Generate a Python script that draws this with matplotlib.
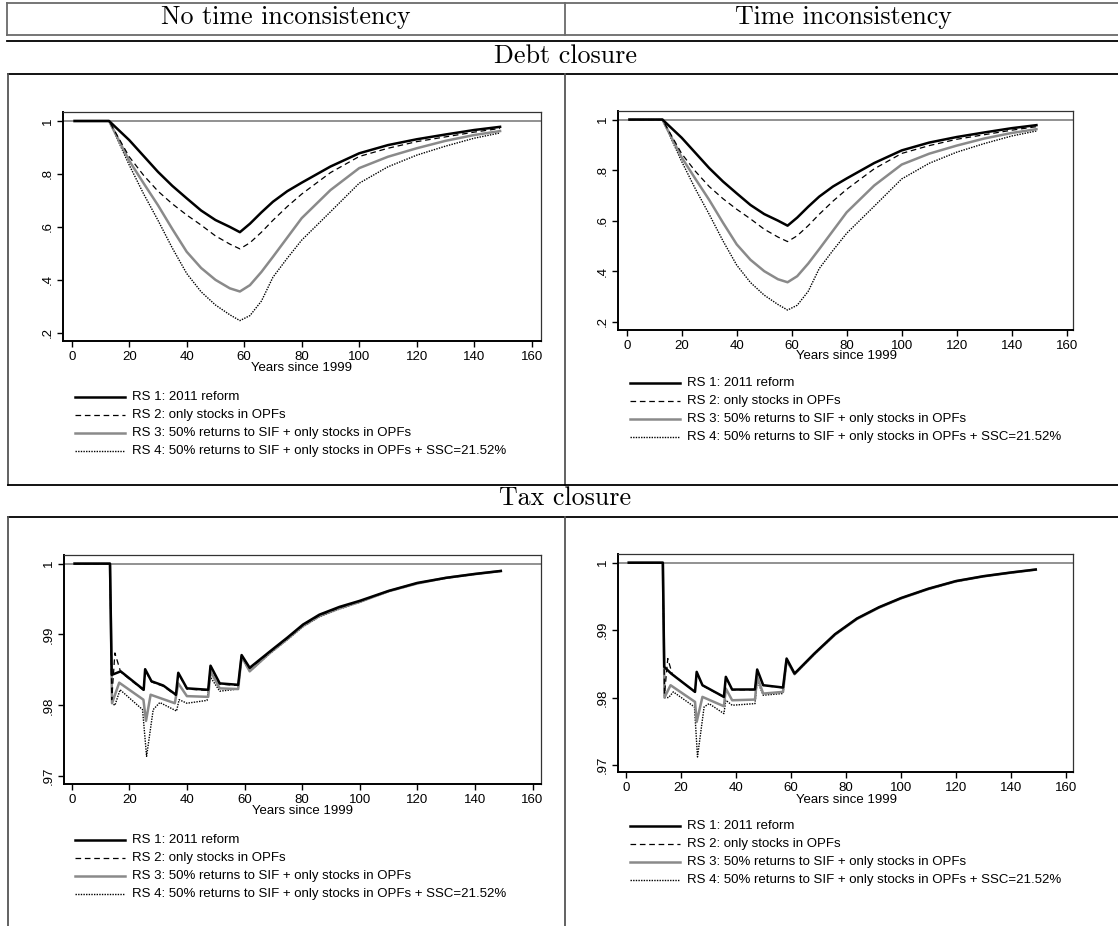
import matplotlib
matplotlib.use("Agg")
import matplotlib.pyplot as plt
from matplotlib.lines import Line2D

W, H = 1118, 926

# ---------------- data ----------------
col_titles = ["No time inconsistency", "Time inconsistency"]
row_titles = ["Debt closure", "Tax closure"]
legend_labels = ["RS 1: 2011 reform",
                 "RS 2: only stocks in OPFs",
                 "RS 3: 50% returns to SIF + only stocks in OPFs",
                 "RS 4: 50% returns to SIF + only stocks in OPFs + SSC=21.52%"]
xlabel = "Years since 1999"
x_ticks = [0, 20, 40, 60, 80, 100, 120, 140, 160]
debt_yticks = [0.2, 0.4, 0.6, 0.8, 1.0]
debt_yticklabels = [".2", ".4", ".6", ".8", "1"]
tax_yticks = [0.97, 0.98, 0.99, 1.0]
tax_yticklabels = [".97", ".98", ".99", "1"]

# Debt closure (same shape in both columns)
debt_t = [1, 13, 20, 25, 30, 35, 40, 45, 50, 55, 58.5, 62, 66, 70, 75, 80, 90, 100, 110, 120, 130, 140, 149]
debt_rs1 = [1.0, 1.0, 0.928, 0.868, 0.808, 0.755, 0.708, 0.662, 0.626, 0.600, 0.580, 0.612, 0.655, 0.695, 0.735, 0.767, 0.828, 0.878, 0.909, 0.931, 0.949, 0.966, 0.978]
debt_rs2 = [1.0, 1.0, 0.865, 0.795, 0.735, 0.687, 0.645, 0.607, 0.566, 0.535, 0.517, 0.540, 0.580, 0.625, 0.677, 0.724, 0.805, 0.866, 0.897, 0.922, 0.940, 0.958, 0.972]
debt_rs3 = [1.0, 1.0, 0.850, 0.765, 0.682, 0.592, 0.506, 0.445, 0.400, 0.368, 0.356, 0.380, 0.430, 0.487, 0.560, 0.633, 0.739, 0.822, 0.865, 0.897, 0.925, 0.947, 0.962]
debt_rs4 = [1.0, 1.0, 0.834, 0.725, 0.625, 0.520, 0.424, 0.355, 0.305, 0.268, 0.246, 0.265, 0.320, 0.410, 0.482, 0.550, 0.657, 0.765, 0.827, 0.871, 0.905, 0.935, 0.955]

# Tax closure, no time inconsistency
taxA_rs1_t = [1, 13.3, 13.9, 17, 25, 25.5, 27.7, 31.8, 36.2, 37, 40, 47.4, 48.2, 51.4, 57.8, 59, 61.8, 68.8, 75, 80.3, 86, 93, 100, 110, 120, 130, 140, 149]
taxA_rs1 = [1, 1, 0.9843, 0.9848, 0.9822, 0.9851, 0.9834, 0.9828, 0.9815, 0.9846, 0.9824, 0.9822, 0.9856, 0.9831, 0.9829, 0.9871, 0.9853, 0.9876, 0.9896, 0.9914, 0.9928, 0.9939, 0.99475, 0.99615, 0.99728, 0.99800, 0.99855, 0.99897]
taxA_rs2_t = [1, 13.3, 13.9, 15, 17, 25, 25.5, 27.7, 31.8, 36.2, 37, 40, 47.4, 48.2, 51.4, 57.8, 59, 61.8, 68.8, 75, 80.3, 86, 93, 100, 110, 120, 130, 140, 149]
taxA_rs2 = [1, 1, 0.9808, 0.9874, 0.9847, 0.9821, 0.9850, 0.9833, 0.9827, 0.9814, 0.9845, 0.9823, 0.9821, 0.9855, 0.9830, 0.9828, 0.9870, 0.9852, 0.9875, 0.9895, 0.9913, 0.9927, 0.9938, 0.99470, 0.99612, 0.99725, 0.99798, 0.99853, 0.99896]
taxA_rs3_t = [1, 13.3, 14, 16.5, 24.9, 25.8, 27.4, 35.8, 37, 40, 47.4, 48.2, 51.4, 57.8, 59, 61.8, 68.8, 75, 80.3, 86, 93, 100, 110, 120, 130, 140, 149]
taxA_rs3 = [1, 1, 0.9803, 0.9832, 0.9808, 0.9778, 0.9815, 0.9803, 0.9831, 0.9813, 0.9812, 0.9848, 0.9824, 0.9823, 0.9869, 0.9848, 0.9874, 0.9894, 0.9912, 0.9926, 0.9937, 0.9946, 0.9961, 0.9972, 0.9980, 0.99852, 0.99895]
taxA_rs4_t = [1, 13.3, 14, 15, 16.8, 24.6, 26, 28.3, 30.6, 36.4, 37.3, 40, 47, 48, 51.4, 57.8, 59, 61.8, 68.8, 75, 80.3, 86, 93, 100, 110, 120, 130, 140, 149]
taxA_rs4 = [1, 1, 0.9803, 0.9800, 0.9822, 0.9794, 0.9728, 0.9794, 0.9804, 0.9792, 0.9808, 0.9803, 0.9807, 0.9841, 0.9820, 0.9823, 0.9867, 0.9848, 0.9873, 0.9893, 0.9911, 0.9925, 0.9936, 0.99455, 0.99605, 0.99718, 0.99795, 0.9985, 0.99893]

# Tax closure, time inconsistency
taxB_rs1_t = [1, 13.4, 13.9, 16.4, 25.1, 25.7, 27.8, 35.6, 36.3, 38.6, 46.9, 47.7, 49.9, 57.1, 58.4, 61.3, 68.5, 76, 84, 92, 100, 110, 120, 130, 140, 149]
taxB_rs1 = [1, 1, 0.98455, 0.98356, 0.98084, 0.98381, 0.98183, 0.9801, 0.98307, 0.98119, 0.9812, 0.98416, 0.98183, 0.98149, 0.98579, 0.98356, 0.98653, 0.98940, 0.99173, 0.99340, 0.99476, 0.99615, 0.99728, 0.99800, 0.99855, 0.99899]
taxB_rs2_t = [1, 13.4, 14, 15.2, 16.8, 25.1, 25.7, 27.8, 35.6, 36.3, 38.6, 46.9, 47.7, 49.9, 57.1, 58.4, 61.3, 68.5, 76, 84, 92, 100, 110, 120, 130, 140, 149]
taxB_rs2 = [1, 1, 0.9805, 0.98579, 0.98350, 0.98080, 0.98375, 0.98178, 0.98005, 0.98300, 0.98114, 0.98115, 0.98410, 0.98178, 0.98144, 0.98574, 0.98352, 0.98650, 0.98937, 0.99170, 0.99338, 0.99474, 0.99613, 0.99726, 0.99798, 0.99854, 0.99898]
taxB_rs3_t = [1, 13.4, 14, 16.2, 25.1, 25.7, 27.8, 35.6, 36.3, 38.6, 46.9, 47.7, 49.9, 57.1, 58.4, 61.3, 68.5, 76, 84, 92, 100, 110, 120, 130, 140, 149]
taxB_rs3 = [1, 1, 0.9800, 0.98183, 0.97936, 0.97639, 0.9801, 0.97871, 0.98134, 0.9796, 0.9797, 0.98307, 0.98059, 0.98084, 0.98554, 0.98347, 0.98645, 0.98932, 0.99165, 0.99333, 0.9947, 0.9961, 0.99724, 0.99797, 0.99852, 0.99897]
taxB_rs4_t = [1, 13.4, 14, 15.5, 17.2, 24.9, 26, 28.4, 30.2, 35.6, 36.3, 38.6, 46.9, 47.7, 49.9, 57.1, 58.4, 61.3, 68.5, 76, 84, 92, 100, 110, 120, 130, 140, 149]
taxB_rs4 = [1, 1, 0.9800, 0.9800, 0.98084, 0.97861, 0.97119, 0.97861, 0.9791, 0.97762, 0.9796, 0.97886, 0.9791, 0.98257, 0.98035, 0.9806, 0.98545, 0.98342, 0.9864, 0.98928, 0.99165, 0.99330, 0.99468, 0.99605, 0.9972, 0.99795, 0.9985, 0.99895]

# ---------------- styles ----------------
styles = [
    dict(color="black", lw=1.8, ls="-"),
    dict(color="black", lw=0.9, ls=(0, (4.5, 3))),
    dict(color="#8a8a8a", lw=1.8, ls="-"),
    dict(color="black", lw=1.0, ls=(0, (1, 0.9))),
]

tick_font = "Liberation Sans"
fs_tick = 9.5

fig = plt.figure(figsize=(W / 100, H / 100), dpi=100)


def fx(x):
    return x / W


def fy(y):
    return 1 - y / H


def hline(y, x0, x1, color="black", lw=1.2):
    fig.add_artist(Line2D([fx(x0), fx(x1)], [fy(y), fy(y)], color=color, lw=lw,
                          transform=fig.transFigure))


def vline(x, y0, y1, color="black", lw=1.2):
    fig.add_artist(Line2D([fx(x), fx(x)], [fy(y0), fy(y1)], color=color, lw=lw,
                          transform=fig.transFigure))


# ---------------- table frame ----------------
grey = "#6a6a6a"
hline(3, 7, 1120, grey, 1.3)
hline(35, 7, 1120, grey, 1.3)
vline(7, 3, 35, grey, 1.3)
vline(565, 3, 35, grey, 1.3)
hline(41, 7, 1120, "black", 1.3)
hline(74, 8, 1120, "black", 1.3)
vline(8, 74, 485, "#555555", 1.3)
vline(565, 74, 485, "#555555", 1.3)
hline(485, 8, 1120, "black", 1.3)
hline(517, 8, 1120, "black", 1.3)
vline(8, 517, 926, "#555555", 1.3)
vline(565, 517, 926, "#555555", 1.3)

serif = dict(family="cmr10", size=18.7, ha="center", va="center")
fig.text(fx(286), fy(17), col_titles[0], **serif)
fig.text(fx(843), fy(17), col_titles[1], **serif)
fig.text(fx(565), fy(56), row_titles[0], **serif)
fig.text(fx(565), fy(498), row_titles[1], **serif)

# ---------------- panels ----------------
panels = [
    dict(frame=(63, 112, 541, 341), x0=71.7, ppu=2.875, ylim=(0.169, 1.034), kind="debt",
         xl_y=368, leg_x=75, leg_y=(397, 415, 433, 451)),
    dict(frame=(618, 111, 1073, 330), x0=626.7, ppu=2.75, ylim=(0.167, 1.034), kind="debt",
         xl_y=356, leg_x=630, leg_y=(383, 401, 419, 437)),
    dict(frame=(64, 555, 541, 784), x0=71.7, ppu=2.88, ylim=(0.96890, 1.00122), kind="taxA",
         xl_y=811, leg_x=75, leg_y=(840, 858, 876, 894)),
    dict(frame=(618, 554, 1073, 772), x0=626, ppu=2.75, ylim=(0.96896, 1.00129), kind="taxB",
         xl_y=800, leg_x=630, leg_y=(826, 844, 862, 880)),
]

for p in panels:
    l, t, r, b = p["frame"]
    ax = fig.add_axes([fx(l), fy(b), (r - l) / W, (b - t) / H])
    ax.set_xlim(-(p["x0"] - l) / p["ppu"], (r - p["x0"]) / p["ppu"])
    ax.set_ylim(*p["ylim"])
    ax.axhline(1.0, color="#7f7f7f", lw=1.2, zorder=1)

    if p["kind"] == "debt":
        series = [(debt_t, debt_rs1), (debt_t, debt_rs2), (debt_t, debt_rs3), (debt_t, debt_rs4)]
        ax.set_yticks(debt_yticks)
        ax.set_yticklabels(debt_yticklabels)
    elif p["kind"] == "taxA":
        series = [(taxA_rs1_t, taxA_rs1), (taxA_rs2_t, taxA_rs2), (taxA_rs3_t, taxA_rs3), (taxA_rs4_t, taxA_rs4)]
        ax.set_yticks(tax_yticks)
        ax.set_yticklabels(tax_yticklabels)
    else:
        series = [(taxB_rs1_t, taxB_rs1), (taxB_rs2_t, taxB_rs2), (taxB_rs3_t, taxB_rs3), (taxB_rs4_t, taxB_rs4)]
        ax.set_yticks(tax_yticks)
        ax.set_yticklabels(tax_yticklabels)

    for idx in [3, 2, 1, 0]:
        xs, ys = series[idx]
        ax.plot(xs, ys, zorder=3 + (3 - idx), solid_joinstyle="round", **styles[idx])

    ax.set_xticks(x_ticks)
    ax.set_xticklabels([str(v) for v in x_ticks])
    for lab in ax.get_xticklabels() + ax.get_yticklabels():
        lab.set_family(tick_font)
        lab.set_fontsize(fs_tick)
    ax.tick_params(axis="x", direction="out", length=4, width=1, pad=3)
    ax.tick_params(axis="y", direction="out", length=4, width=1, pad=2.5, labelrotation=90)
    for lab in ax.get_yticklabels():
        lab.set_rotation_mode("anchor")
        lab.set_ha("center")
        lab.set_va("bottom")

    for side in ["left", "bottom"]:
        ax.spines[side].set_linewidth(1.4)
        ax.spines[side].set_color("black")
    for side in ["top", "right"]:
        ax.spines[side].set_linewidth(0.9)
        ax.spines[side].set_color("#333333")

    xl_px = p["x0"] + 80 * p["ppu"]
    ax.set_xlabel(xlabel, family=tick_font, fontsize=fs_tick)
    ax.xaxis.set_label_coords((xl_px - l) / (r - l), (b - p["xl_y"]) / (b - t))
    ax.xaxis.label.set_va("center")

    lx = p["leg_x"]
    for i, yy in enumerate(p["leg_y"]):
        st = styles[i]
        fig.add_artist(Line2D([fx(lx), fx(lx + 50)], [fy(yy), fy(yy)], transform=fig.transFigure,
                              color=st["color"], lw=st["lw"], ls=st["ls"]))
        fig.text(fx(lx + 57), fy(yy), legend_labels[i], family=tick_font, fontsize=fs_tick,
                 ha="left", va="center")

fig.savefig("out.png", dpi=100)
